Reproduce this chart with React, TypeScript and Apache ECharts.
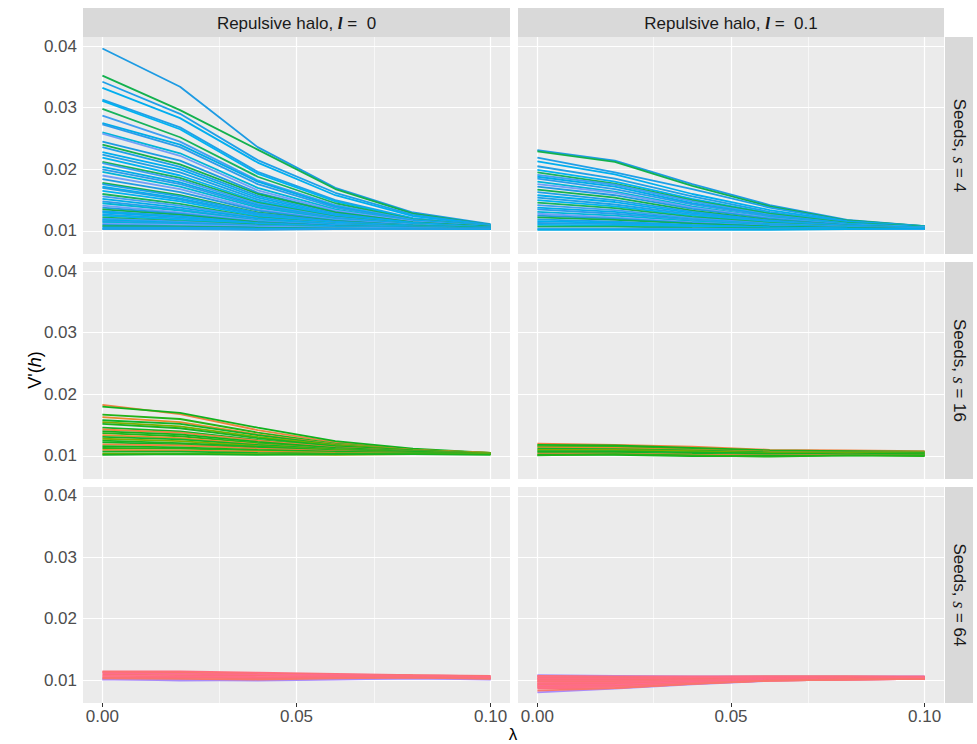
import React, { useEffect, useRef } from 'react';
import * as echarts from 'echarts';

// ---------- data ----------
const lambdas = [0, 0.02, 0.04, 0.06, 0.08, 0.1];
const xTicks = [0, 0.05, 0.1];
const xMinor = [0.025, 0.075];
const yTicks = [0.01, 0.02, 0.03, 0.04];
const yMinor = [0.015, 0.025, 0.035];
const colLabels = ['0', '0.1'];
const rowLabels = ['4', '16', '64'];

// Seeds s = 4, l = 0
const s4_l0 = [
  [0.0396, 0.0334, 0.0236, 0.0170, 0.0130, 0.0111],
  [0.0352, 0.0296, 0.0232, 0.0168, 0.0128, 0.0110],
  [0.0342, 0.0290, 0.0215, 0.0162, 0.0126, 0.0110],
  [0.0332, 0.0283, 0.0211, 0.0158, 0.0124, 0.0109],
  [0.0313, 0.0268, 0.0196, 0.0150, 0.0121, 0.0109],
  [0.0311, 0.0265, 0.0193, 0.0148, 0.0120, 0.0108],
  [0.0298, 0.0252, 0.0188, 0.0145, 0.0119, 0.0108],
  [0.0287, 0.0245, 0.0182, 0.0142, 0.0118, 0.0108],
  [0.0275, 0.0240, 0.0180, 0.0140, 0.0117, 0.0108],
  [0.0273, 0.0236, 0.0176, 0.0138, 0.0116, 0.0107],
  [0.0260, 0.0226, 0.0170, 0.0135, 0.0115, 0.0107],
  [0.0258, 0.0222, 0.0166, 0.0133, 0.0115, 0.0107],
  [0.0245, 0.0214, 0.0162, 0.0131, 0.0114, 0.0107],
  [0.0240, 0.0208, 0.0160, 0.0130, 0.0114, 0.0107],
  [0.0236, 0.0204, 0.0157, 0.0128, 0.0113, 0.0106],
  [0.0228, 0.0200, 0.0154, 0.0126, 0.0113, 0.0106],
  [0.0224, 0.0195, 0.0151, 0.0125, 0.0112, 0.0106],
  [0.0219, 0.0190, 0.0148, 0.0124, 0.0112, 0.0106],
  [0.0212, 0.0186, 0.0146, 0.0123, 0.0111, 0.0106],
  [0.0210, 0.0183, 0.0144, 0.0122, 0.0111, 0.0106],
  [0.0204, 0.0179, 0.0142, 0.0121, 0.0111, 0.0106],
  [0.0200, 0.0176, 0.0140, 0.0120, 0.0110, 0.0105],
  [0.0196, 0.0172, 0.0138, 0.0119, 0.0110, 0.0105],
  [0.0190, 0.0168, 0.0135, 0.0118, 0.0110, 0.0105],
  [0.0184, 0.0163, 0.0133, 0.0117, 0.0109, 0.0105],
  [0.0178, 0.0158, 0.0130, 0.0116, 0.0109, 0.0105],
  [0.0176, 0.0156, 0.0129, 0.0115, 0.0109, 0.0105],
  [0.0172, 0.0153, 0.0127, 0.0114, 0.0108, 0.0105],
  [0.0170, 0.0151, 0.0126, 0.0114, 0.0108, 0.0105],
  [0.0165, 0.0148, 0.0124, 0.0113, 0.0108, 0.0105],
  [0.0160, 0.0144, 0.0122, 0.0112, 0.0108, 0.0105],
  [0.0156, 0.0141, 0.0121, 0.0112, 0.0107, 0.0104],
  [0.0152, 0.0138, 0.0120, 0.0111, 0.0107, 0.0104],
  [0.0148, 0.0135, 0.0118, 0.0110, 0.0107, 0.0104],
  [0.0145, 0.0133, 0.0117, 0.0110, 0.0107, 0.0104],
  [0.0141, 0.0130, 0.0116, 0.0109, 0.0106, 0.0104],
  [0.0138, 0.0128, 0.0115, 0.0109, 0.0106, 0.0104],
  [0.0135, 0.0126, 0.0114, 0.0108, 0.0106, 0.0104],
  [0.0132, 0.0124, 0.0113, 0.0108, 0.0106, 0.0104],
  [0.0130, 0.0122, 0.0112, 0.0107, 0.0105, 0.0104],
  [0.0127, 0.0120, 0.0111, 0.0107, 0.0105, 0.0104],
  [0.0125, 0.0118, 0.0111, 0.0107, 0.0105, 0.0103],
  [0.0122, 0.0116, 0.0110, 0.0106, 0.0105, 0.0103],
  [0.0120, 0.0115, 0.0109, 0.0106, 0.0105, 0.0103],
  [0.0118, 0.0113, 0.0108, 0.0106, 0.0104, 0.0103],
  [0.0116, 0.0112, 0.0108, 0.0105, 0.0104, 0.0103],
  [0.0114, 0.0111, 0.0107, 0.0105, 0.0104, 0.0103],
  [0.0112, 0.0110, 0.0107, 0.0105, 0.0104, 0.0103],
  [0.0110, 0.0108, 0.0106, 0.0104, 0.0104, 0.0103],
  [0.0108, 0.0107, 0.0105, 0.0104, 0.0103, 0.0103],
  [0.0106, 0.0106, 0.0104, 0.0104, 0.0103, 0.0103],
  [0.0104, 0.0104, 0.0103, 0.0103, 0.0103, 0.0103],
  [0.0103, 0.0103, 0.0102, 0.0103, 0.0103, 0.0104],
];

// Seeds s = 4, l = 0.1
const s4_l01 = [
  [0.0231, 0.0214, 0.0176, 0.0142, 0.0118, 0.0108],
  [0.0229, 0.0212, 0.0173, 0.0140, 0.0117, 0.0108],
  [0.0219, 0.0195, 0.0168, 0.0138, 0.0116, 0.0108],
  [0.0213, 0.0192, 0.0160, 0.0134, 0.0115, 0.0107],
  [0.0205, 0.0185, 0.0156, 0.0131, 0.0114, 0.0107],
  [0.0199, 0.0180, 0.0152, 0.0129, 0.0113, 0.0107],
  [0.0195, 0.0177, 0.0150, 0.0128, 0.0113, 0.0107],
  [0.0191, 0.0175, 0.0148, 0.0126, 0.0112, 0.0106],
  [0.0188, 0.0172, 0.0145, 0.0125, 0.0112, 0.0106],
  [0.0185, 0.0168, 0.0143, 0.0124, 0.0111, 0.0106],
  [0.0180, 0.0164, 0.0140, 0.0122, 0.0111, 0.0106],
  [0.0176, 0.0162, 0.0138, 0.0121, 0.0110, 0.0106],
  [0.0172, 0.0158, 0.0136, 0.0120, 0.0110, 0.0105],
  [0.0167, 0.0154, 0.0133, 0.0118, 0.0109, 0.0105],
  [0.0163, 0.0150, 0.0131, 0.0117, 0.0109, 0.0105],
  [0.0158, 0.0147, 0.0129, 0.0116, 0.0108, 0.0105],
  [0.0154, 0.0143, 0.0127, 0.0115, 0.0108, 0.0105],
  [0.0150, 0.0140, 0.0125, 0.0114, 0.0108, 0.0105],
  [0.0146, 0.0137, 0.0123, 0.0113, 0.0107, 0.0104],
  [0.0142, 0.0134, 0.0121, 0.0112, 0.0107, 0.0104],
  [0.0138, 0.0131, 0.0119, 0.0111, 0.0106, 0.0104],
  [0.0135, 0.0128, 0.0118, 0.0110, 0.0106, 0.0104],
  [0.0131, 0.0125, 0.0116, 0.0109, 0.0106, 0.0104],
  [0.0128, 0.0122, 0.0114, 0.0108, 0.0105, 0.0104],
  [0.0125, 0.0120, 0.0113, 0.0108, 0.0105, 0.0104],
  [0.0122, 0.0118, 0.0112, 0.0107, 0.0105, 0.0103],
  [0.0119, 0.0115, 0.0110, 0.0106, 0.0104, 0.0103],
  [0.0116, 0.0113, 0.0109, 0.0106, 0.0104, 0.0103],
  [0.0113, 0.0111, 0.0108, 0.0105, 0.0104, 0.0103],
  [0.0110, 0.0109, 0.0107, 0.0105, 0.0104, 0.0103],
  [0.0107, 0.0107, 0.0105, 0.0104, 0.0103, 0.0103],
  [0.0104, 0.0104, 0.0104, 0.0103, 0.0103, 0.0103],
  [0.0102, 0.0102, 0.0102, 0.0102, 0.0103, 0.0104],
];

// Seeds s = 16, l = 0
const s16_l0 = [
  [0.0183, 0.0168, 0.0142, 0.0122, 0.0110, 0.0105],
  [0.0180, 0.0170, 0.0146, 0.0124, 0.0112, 0.0105],
  [0.0167, 0.0160, 0.0138, 0.0120, 0.0110, 0.0105],
  [0.0163, 0.0155, 0.0135, 0.0119, 0.0110, 0.0105],
  [0.0158, 0.0152, 0.0134, 0.0118, 0.0109, 0.0104],
  [0.0155, 0.0148, 0.0131, 0.0117, 0.0109, 0.0104],
  [0.0152, 0.0145, 0.0129, 0.0116, 0.0109, 0.0104],
  [0.0146, 0.0140, 0.0126, 0.0115, 0.0108, 0.0104],
  [0.0143, 0.0138, 0.0125, 0.0114, 0.0108, 0.0104],
  [0.0140, 0.0135, 0.0123, 0.0113, 0.0108, 0.0104],
  [0.0137, 0.0132, 0.0121, 0.0112, 0.0107, 0.0104],
  [0.0134, 0.0129, 0.0119, 0.0111, 0.0107, 0.0104],
  [0.0131, 0.0127, 0.0118, 0.0111, 0.0107, 0.0104],
  [0.0128, 0.0124, 0.0116, 0.0110, 0.0106, 0.0104],
  [0.0125, 0.0121, 0.0115, 0.0109, 0.0106, 0.0103],
  [0.0122, 0.0119, 0.0113, 0.0108, 0.0106, 0.0103],
  [0.0119, 0.0117, 0.0112, 0.0108, 0.0105, 0.0103],
  [0.0116, 0.0114, 0.0110, 0.0107, 0.0105, 0.0103],
  [0.0113, 0.0112, 0.0109, 0.0106, 0.0105, 0.0103],
  [0.0110, 0.0109, 0.0107, 0.0105, 0.0104, 0.0103],
  [0.0107, 0.0107, 0.0105, 0.0104, 0.0104, 0.0103],
  [0.0104, 0.0104, 0.0103, 0.0102, 0.0103, 0.0103],
  [0.0102, 0.0103, 0.0102, 0.0103, 0.0103, 0.0102],
];

// Seeds s = 16, l = 0.1
const s16_l01 = [
  [0.0120, 0.0118, 0.0115, 0.0110, 0.0109, 0.0108],
  [0.0118, 0.0117, 0.0113, 0.0109, 0.0108, 0.0107],
  [0.0116, 0.0115, 0.0111, 0.0108, 0.0107, 0.0106],
  [0.0114, 0.0113, 0.0110, 0.0107, 0.0106, 0.0106],
  [0.0112, 0.0111, 0.0109, 0.0106, 0.0106, 0.0105],
  [0.0110, 0.0110, 0.0108, 0.0105, 0.0105, 0.0104],
  [0.0108, 0.0108, 0.0106, 0.0104, 0.0104, 0.0103],
  [0.0106, 0.0106, 0.0104, 0.0102, 0.0103, 0.0102],
  [0.0104, 0.0104, 0.0102, 0.0101, 0.0102, 0.0101],
  [0.0102, 0.0102, 0.0100, 0.0100, 0.0101, 0.0101],
  [0.0101, 0.0103, 0.0101, 0.0099, 0.0101, 0.0100],
];

// Seeds s = 64, l = 0
const s64_l0 = [
  [0.0114, 0.0114, 0.0112, 0.0110, 0.0108, 0.0107],
  [0.0113, 0.0112, 0.0110, 0.0109, 0.0108, 0.0106],
  [0.0111, 0.0110, 0.0109, 0.0108, 0.0107, 0.0105],
  [0.0109, 0.0108, 0.0107, 0.0106, 0.0106, 0.0104],
  [0.0107, 0.0106, 0.0105, 0.0105, 0.0105, 0.0104],
  [0.0105, 0.0104, 0.0103, 0.0104, 0.0104, 0.0103],
  [0.0103, 0.0102, 0.0101, 0.0103, 0.0104, 0.0102],
];
const s64_l0_edge = [
  [0.0102, 0.0099, 0.0100, 0.0102, 0.0103, 0.0102],
  [0.0101, 0.0101, 0.0099, 0.0101, 0.0103, 0.0101],
];

// Seeds s = 64, l = 0.1
const s64_l01 = [
  [0.0107, 0.0106, 0.0106, 0.0106, 0.0106, 0.0106],
  [0.0106, 0.0105, 0.0105, 0.0106, 0.0106, 0.0105],
  [0.0105, 0.0104, 0.0105, 0.0105, 0.0105, 0.0105],
  [0.0103, 0.0103, 0.0104, 0.0104, 0.0105, 0.0105],
  [0.0102, 0.0102, 0.0103, 0.0104, 0.0104, 0.0104],
  [0.0101, 0.0101, 0.0102, 0.0103, 0.0104, 0.0104],
  [0.0099, 0.0099, 0.0101, 0.0102, 0.0103, 0.0104],
  [0.0098, 0.0098, 0.0100, 0.0102, 0.0103, 0.0104],
  [0.0097, 0.0097, 0.0100, 0.0101, 0.0103, 0.0103],
  [0.0095, 0.0096, 0.0099, 0.0101, 0.0102, 0.0103],
  [0.0094, 0.0095, 0.0098, 0.0101, 0.0102, 0.0103],
  [0.0092, 0.0093, 0.0097, 0.0100, 0.0102, 0.0103],
  [0.0091, 0.0092, 0.0097, 0.0100, 0.0102, 0.0103],
  [0.0089, 0.0090, 0.0096, 0.0099, 0.0101, 0.0102],
  [0.0088, 0.0089, 0.0095, 0.0099, 0.0101, 0.0102],
  [0.0086, 0.0087, 0.0094, 0.0099, 0.0101, 0.0102],
  [0.0083, 0.0087, 0.0094, 0.0099, 0.0101, 0.0102],
];
const s64_l01_edge = [
  [0.0108, 0.0107, 0.0106, 0.0106, 0.0106, 0.0106],
  [0.0080, 0.0086, 0.0093, 0.0099, 0.0101, 0.0102],
];

// ---------- styles ----------
const palS4 = ['#1D9BE3', '#12B14E', '#1E9FE8', '#00AEEF', '#21A0E5', '#00B2F2', '#16B35C', '#3F9EF2', '#00ACE8', '#2B9CEB', '#00B5D8', '#6FA0F8'];
const palS16 = ['#EF8240', '#10B21D', '#22B41A', '#E98A2E', '#0DB52A', '#7FAB00', '#19B320', '#0FB324'];
const palS64 = ['#FF6C80', '#F8766D', '#FF6A92', '#FA7275', '#FF6E88'];
const edgeColor = '#A98BFA';

const SANS = '"Liberation Sans", Arial, Helvetica, sans-serif';
const SERIF = '"Liberation Serif", "Times New Roman", serif';

const colLeft = [83, 518];
const colWidth = [427, 426];
const rowTop = [37, 262, 487];
const rowHeight = [217, 217, 216];
const X_MIN = -0.005, X_MAX = 0.105;
const Y_MIN = 0.00627, Y_MAX = 0.04146;

const panels = [
  { row: 0, col: 0, lines: s4_l0, pal: palS4, edge: [] as number[][] },
  { row: 0, col: 1, lines: s4_l01, pal: palS4, edge: [] as number[][] },
  { row: 1, col: 0, lines: s16_l0, pal: palS16, edge: [] as number[][] },
  { row: 1, col: 1, lines: s16_l01, pal: palS16, edge: [] as number[][] },
  { row: 2, col: 0, lines: s64_l0, pal: palS64, edge: s64_l0_edge },
  { row: 2, col: 1, lines: s64_l01, pal: palS64, edge: s64_l01_edge },
];

function buildOption() {
  const grid: any[] = [];
  const xAxis: any[] = [];
  const yAxis: any[] = [];
  const series: any[] = [];

  panels.forEach((p, i) => {
    grid.push({
      left: colLeft[p.col], top: rowTop[p.row], width: colWidth[p.col], height: rowHeight[p.row],
      show: true, backgroundColor: '#EBEBEB', borderWidth: 0, borderColor: 'transparent',
      containLabel: false, outerBoundsMode: 'none',
    });
    const bottom = p.row === 2;
    const left = p.col === 0;
    xAxis.push({
      type: 'value', gridIndex: i, min: X_MIN, max: X_MAX,
      axisLine: { show: false }, splitLine: { show: false },
      axisTick: { show: bottom, customValues: xTicks, length: 4, lineStyle: { color: '#333333', width: 1 } },
      axisLabel: {
        show: bottom, customValues: xTicks, formatter: (v: number) => v.toFixed(2),
        color: '#4D4D4D', fontSize: 17, fontFamily: SANS, margin: 5,
      },
    });
    yAxis.push({
      type: 'value', gridIndex: i, min: Y_MIN, max: Y_MAX,
      axisLine: { show: false }, splitLine: { show: false },
      axisTick: { show: left, customValues: yTicks, length: 4, lineStyle: { color: '#333333', width: 1 } },
      axisLabel: {
        show: left, customValues: yTicks, formatter: (v: number) => v.toFixed(2),
        color: '#4D4D4D', fontSize: 17, fontFamily: SANS, margin: 6,
      },
    });

    const gl: any[] = [];
    xTicks.forEach((v) => gl.push({ xAxis: v, lineStyle: { width: 1.2 } }));
    xMinor.forEach((v) => gl.push({ xAxis: v, lineStyle: { width: 0.6 } }));
    yTicks.forEach((v) => gl.push({ yAxis: v, lineStyle: { width: 1.2 } }));
    yMinor.forEach((v) => gl.push({ yAxis: v, lineStyle: { width: 0.6 } }));
    series.push({
      type: 'line', xAxisIndex: i, yAxisIndex: i, data: [[0, 0.01]], silent: true,
      showSymbol: false, symbol: 'none', lineStyle: { opacity: 0 }, z: 1,
      markLine: {
        silent: true, symbol: ['none', 'none'], label: { show: false }, z: 1,
        lineStyle: { color: '#FFFFFF', type: 'solid', width: 1 },
        emphasis: { disabled: true }, animation: false,
        data: gl,
      },
    });

    p.edge.forEach((ln) => {
      series.push({
        type: 'line', xAxisIndex: i, yAxisIndex: i, silent: true, z: 2,
        data: lambdas.map((x, k) => [x, ln[k]]),
        showSymbol: false, symbol: 'none',
        lineStyle: { width: 1.8, color: edgeColor }, itemStyle: { color: edgeColor },
      });
    });
    p.lines.forEach((ln, j) => {
      const c = p.pal[j % p.pal.length];
      series.push({
        type: 'line', xAxisIndex: i, yAxisIndex: i, silent: true, z: 3,
        data: lambdas.map((x, k) => [x, ln[k]]),
        showSymbol: false, symbol: 'none',
        lineStyle: { width: 1.8, color: c }, itemStyle: { color: c },
      });
    });
  });

  const graphic: any[] = [];
  colLabels.forEach((lab, c) => {
    graphic.push({
      type: 'rect', shape: { x: colLeft[c], y: 8, width: colWidth[c], height: 29 },
      style: { fill: '#D9D9D9' }, silent: true,
    });
    graphic.push({
      type: 'text', x: colLeft[c] + colWidth[c] / 2, y: 23, silent: true,
      style: {
        text: `{a|Repulsive halo, }{b|l}{a| =  ${lab}}`,
        align: 'center', verticalAlign: 'middle',
        rich: {
          a: { fontSize: 17, fontFamily: SANS, fill: '#1A1A1A' },
          b: { fontSize: 17, fontFamily: SERIF, fontStyle: 'italic', fontWeight: 'bold', fill: '#1A1A1A' },
        },
      },
    });
  });
  rowLabels.forEach((lab, r) => {
    graphic.push({
      type: 'rect', shape: { x: 945, y: rowTop[r], width: 28, height: rowHeight[r] },
      style: { fill: '#D9D9D9' }, silent: true,
    });
    graphic.push({
      type: 'text', x: 959, y: rowTop[r] + rowHeight[r] / 2, rotation: -Math.PI / 2, silent: true,
      style: {
        text: `{a|Seeds, }{b|s}{a| = ${lab}}`,
        align: 'center', verticalAlign: 'middle',
        rich: {
          a: { fontSize: 17, fontFamily: SANS, fill: '#1A1A1A' },
          b: { fontSize: 18, fontFamily: SERIF, fontStyle: 'italic', fill: '#1A1A1A' },
        },
      },
    });
  });
  graphic.push({
    type: 'text', x: 35, y: 370, rotation: Math.PI / 2, silent: true,
    style: {
      text: "{a|V'(}{b|h}{a|)}",
      align: 'center', verticalAlign: 'middle',
      rich: {
        a: { fontSize: 18, fontFamily: SANS, fill: '#000000' },
        b: { fontSize: 18, fontFamily: SANS, fontStyle: 'italic', fill: '#000000' },
      },
    },
  });
  graphic.push({
    type: 'text', x: 513, y: 726, silent: true,
    style: { text: 'λ', fontSize: 17, fontFamily: SANS, fill: '#000000', align: 'center', verticalAlign: 'top' },
  });

  return {
    animation: false,
    backgroundColor: '#FFFFFF',
    grid, xAxis, yAxis, series, graphic,
  };
}

export default function App() {
  const ref = useRef<HTMLDivElement>(null);
  useEffect(() => {
    if (!ref.current) return;
    const chart = echarts.init(ref.current, undefined, { renderer: 'svg' });
    chart.setOption(buildOption() as any);
    return () => chart.dispose();
  }, []);
  return (
    <div
      ref={ref}
      style={{ position: 'fixed', left: 0, top: 0, width: 977, height: 744, background: '#fff' }}
    />
  );
}
